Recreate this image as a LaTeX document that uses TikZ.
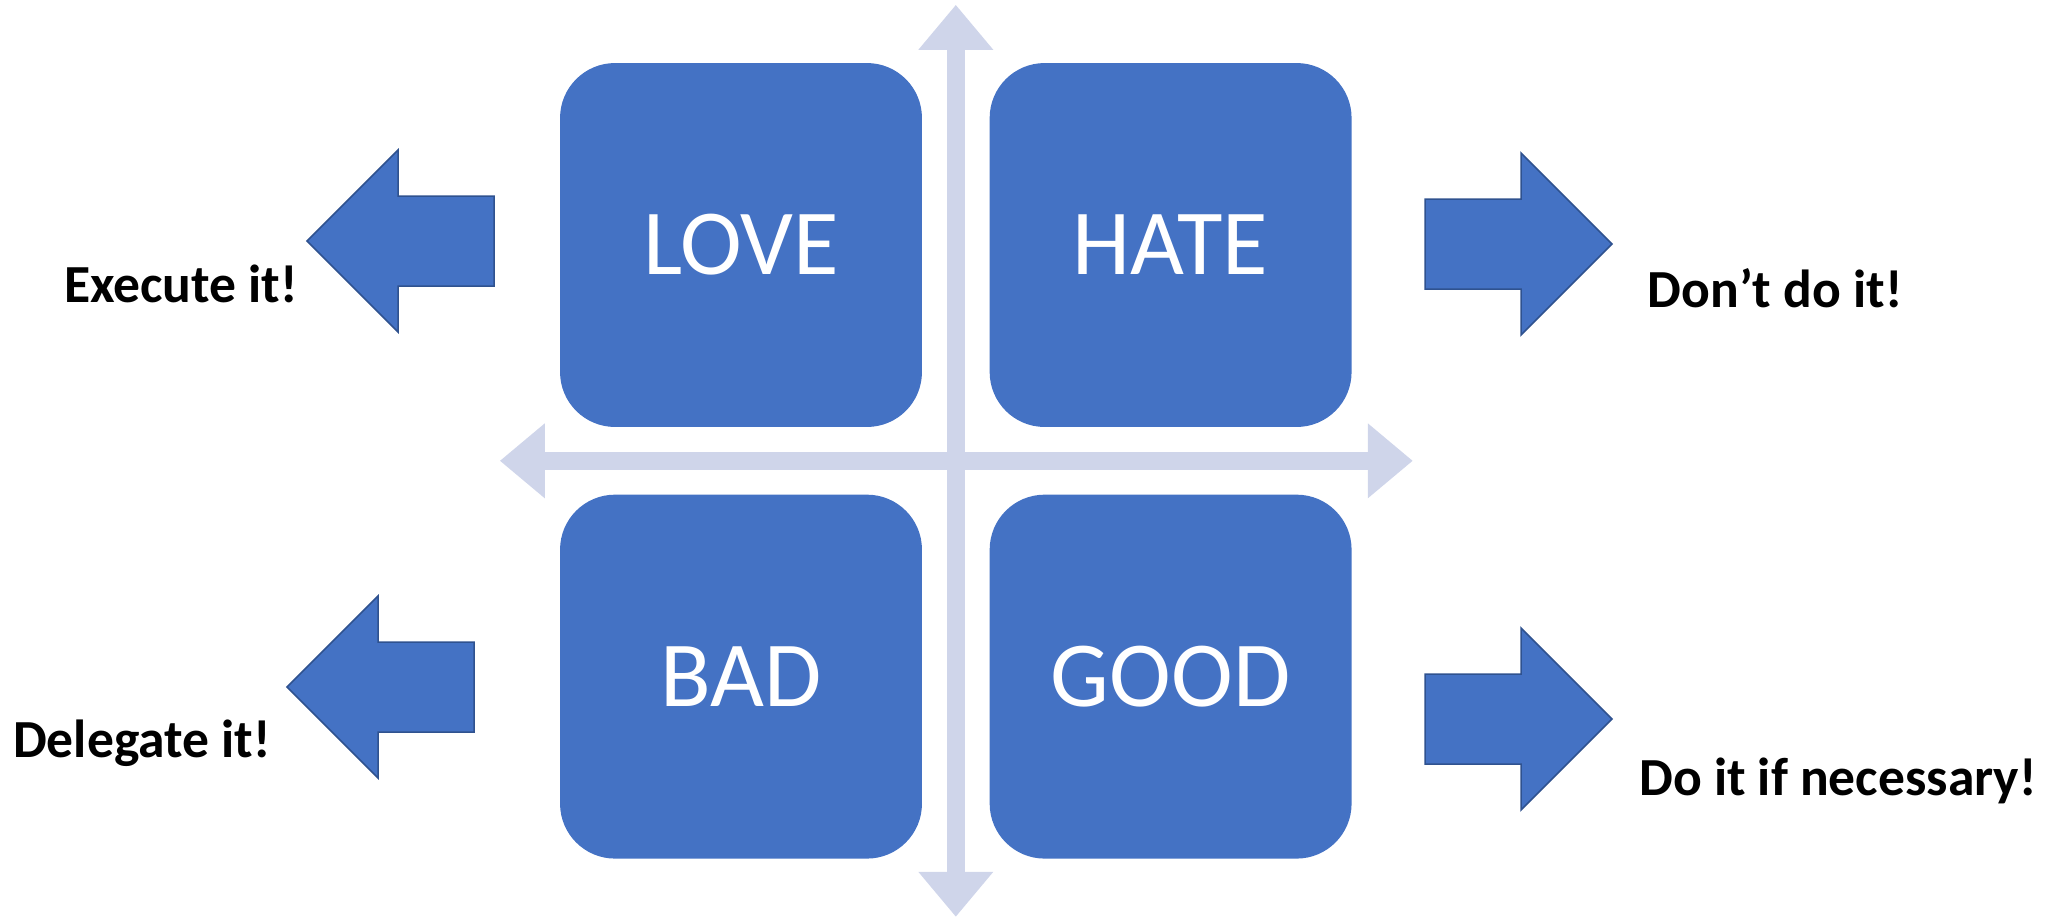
\documentclass[tikz,border=0pt]{standalone}
\usepackage{fontspec}
\setmainfont{Carlito}
\usepackage{tikz}
\usetikzlibrary{positioning,arrows.meta,calc}
\definecolor{boxblue}{HTML}{4472C4}
\definecolor{edgeblue}{HTML}{2F528F}
\definecolor{axisgrey}{HTML}{CFD5EA}

\begin{document}
\begin{tikzpicture}[x=0.02cm,y=-0.02cm,
		quad/.style={shape=rectangle,rounded corners=1.1cm,fill=boxblue,text=white,minimum width=7.24cm,minimum height=7.28cm,font=\fontsize{53pt}{60pt}\selectfont},
		axis/.style={draw=axisgrey,line width=0.36cm,>={Triangle[length=0.9cm,width=1.44cm]},<->},
		blockarrow/.style={fill=boxblue,draw=edgeblue,line width=0.03cm,line join=miter},
		advice/.style={font=\fontsize{30.5pt}{36pt}\selectfont\bfseries,anchor=base}]
		\useasboundingbox (0,0) rectangle (2065,917);
		% the four quadrants
		\node(love) [quad] at (741,245) {LOVE};
		\node(hate) [quad,right=1.34cm of love] {HATE};
		\node(bad)  [quad,below=1.34cm of love] {BAD};
		\node(good) [quad,below=1.34cm of hate] {GOOD};
		% axes through the middle
		\coordinate (mid) at ($(love.south east)!0.5!(good.north west)$);
		\coordinate (N) at ($(mid)+(0,-456)$);
		\coordinate (S) at ($(mid)+(0,456)$);
		\coordinate (W) at ($(mid)+(-456,0)$);
		\coordinate (E) at ($(mid)+(457,0)$);
		\draw[axis] (N) -- (S);
		\draw[axis] (W) -- (E);
		% block arrows
		\foreach \tx/\ty/\d in {307/241/1, 287/687/1, 1612/244/-1, 1612/719/-1}
			\draw[blockarrow] (\tx,\ty) -- ++({91*\d},-91) -- ++(0,46) -- ++({96*\d},0) -- ++(0,90) -- ++({-96*\d},0) -- ++(0,46) -- cycle;
		\node(exec) [advice] at (181,302) {Execute it!};
		\node(dele) [advice] at (142,757) {Delegate it!};
		\node(dont) [advice] at (1775,307) {Don’t do it!};
		\node(need) [advice] at (1838,795) {Do it if necessary!};
	\end{tikzpicture}
\end{document}
